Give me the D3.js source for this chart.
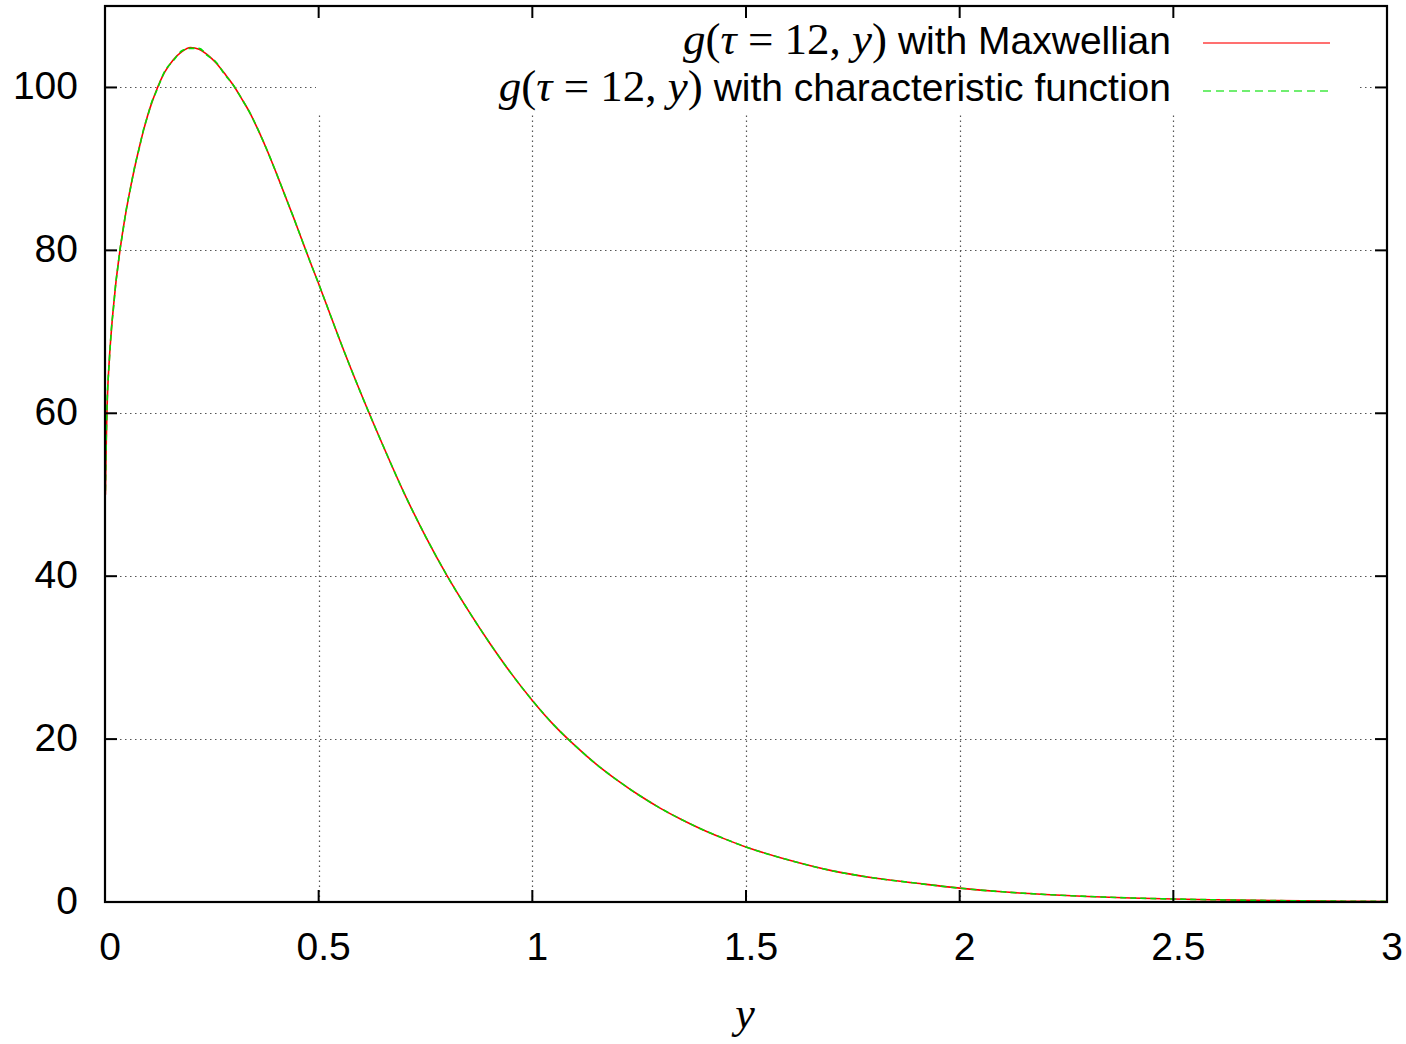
<!DOCTYPE html>
<html>
<head>
<meta charset="utf-8">
<script src="https://cdn.jsdelivr.net/npm/d3@7"></script>
<style>
  html, body { margin: 0; padding: 0; background: #fff; }
  svg { display: block; }
</style>
</head>
<body>
<svg id="chart" width="1406" height="1044"></svg>
<script>
// Sample positions y and the two computed profiles g(tau = 12, y)
const yValues = [
  0.001, 0.003, 0.005, 0.010, 0.015, 0.020, 0.025, 0.030, 0.035, 0.040,
  0.050, 0.060, 0.070, 0.080, 0.090, 0.100, 0.110, 0.120, 0.140, 0.160,
  0.180, 0.200, 0.220, 0.240, 0.260, 0.280, 0.300, 0.320, 0.340, 0.360,
  0.380, 0.400, 0.420, 0.440, 0.460, 0.480, 0.500, 0.520, 0.550, 0.600,
  0.650, 0.700, 0.750, 0.800, 0.850, 0.900, 0.950, 1.000, 1.050, 1.100,
  1.150, 1.200, 1.250, 1.300, 1.350, 1.400, 1.450, 1.500, 1.600, 1.700,
  1.800, 1.900, 2.000, 2.100, 2.200, 2.300, 2.400, 2.500, 2.600, 2.700,
  2.800, 2.900, 3.000
];
const gMaxwellian = [
  50.0, 56.5, 61.0, 66.5, 70.2, 73.2, 75.8, 78.0, 80.0, 81.8,
  85.0, 87.8, 90.3, 92.6, 94.7, 96.6, 98.2, 99.6, 101.9, 103.4,
  104.4, 104.9, 104.7, 104.0, 103.0, 101.7, 100.3, 98.6, 96.8, 94.6,
  92.2, 89.6, 86.9, 84.2, 81.4, 78.6, 75.9, 73.1, 68.9, 62.3,
  56.1, 50.2, 44.9, 40.1, 35.8, 31.8, 28.1, 24.75, 21.75, 19.2,
  16.9, 14.9, 13.1, 11.5, 10.1, 8.85, 7.75, 6.75, 5.15, 3.85,
  2.95, 2.3, 1.7, 1.25, 0.93, 0.68, 0.5, 0.37, 0.27, 0.2,
  0.14, 0.1, 0.07
];
const gCharacteristic = [
  50.5, 57.0, 61.3, 66.3, 70.4, 73.0, 75.9, 77.9, 80.1, 81.7,
  85.1, 87.7, 90.4, 92.5, 94.8, 96.5, 98.3, 99.5, 102.0, 103.3,
  104.5, 104.8, 104.8, 103.9, 103.1, 101.6, 100.3, 98.6, 96.8, 94.6,
  92.2, 89.6, 86.9, 84.2, 81.4, 78.6, 75.9, 73.1, 68.9, 62.3,
  56.1, 50.2, 44.9, 40.1, 35.8, 31.8, 28.1, 24.75, 21.75, 19.2,
  16.9, 14.9, 13.1, 11.5, 10.1, 8.85, 7.75, 6.75, 5.15, 3.85,
  2.95, 2.3, 1.7, 1.25, 0.93, 0.68, 0.5, 0.37, 0.27, 0.2,
  0.14, 0.1, 0.07
];
const xTicks = [0, 0.5, 1, 1.5, 2, 2.5, 3];
const yTicks = [0, 20, 40, 60, 80, 100];
const legendLabels = ["with Maxwellian", "with characteristic function"];

const svg = d3.select("#chart");
const plotL = 105, plotR = 1387, plotT = 6, plotB = 902;

const x = d3.scaleLinear().domain([0, 3]).range([plotL, plotR]);
const y = d3.scaleLinear().domain([0, 110]).range([plotB, plotT]);

const sans = "'Liberation Sans', Arial, sans-serif";
const serif = "'Liberation Serif', 'Times New Roman', serif";

// dotted grid
const grid = svg.append("g").attr("stroke", "#555").attr("stroke-width", 1.2)
  .attr("stroke-dasharray", "1.5,3.5");
grid.selectAll("line.gx").data(xTicks.filter(d => d > 0 && d < 3)).join("line")
  .attr("x1", d => Math.round(x(d)) + 0.5).attr("x2", d => Math.round(x(d)) + 0.5)
  .attr("y1", plotB).attr("y2", plotT);
grid.selectAll("line.gy").data(yTicks.filter(d => d > 0)).join("line")
  .attr("y1", d => Math.round(y(d)) + 0.5).attr("y2", d => Math.round(y(d)) + 0.5)
  .attr("x1", plotL).attr("x2", plotR);

// curves
const pts = (vals) => yValues.map((v, i) => [v, vals[i]]);
const line = d3.line().x(d => x(d[0])).y(d => y(d[1])).curve(d3.curveMonotoneX);

svg.append("path").datum(pts(gMaxwellian))
  .attr("fill", "none").attr("stroke", "#ff0000").attr("stroke-width", 1.6)
  .attr("d", line);
svg.append("path").datum(pts(gCharacteristic))
  .attr("fill", "none").attr("stroke", "#00e000").attr("stroke-width", 1.6)
  .attr("stroke-dasharray", "6,4")
  .attr("d", line);

// legend background
svg.append("rect").attr("x", 316).attr("y", plotT + 2).attr("width", 1358 - 316)
  .attr("height", 107).attr("fill", "#fff");

// legend entries
const legend = svg.append("g");
const rows = [
  { ty: 54, ly: 43, color: "#ff0000", dash: null },
  { ty: 101, ly: 91, color: "#00e000", dash: "8,5" }
];
rows.forEach((r, i) => {
  const t = legend.append("text").attr("x", 1171).attr("y", r.ty)
    .attr("text-anchor", "end").attr("fill", "#000");
  const add = (s, italic) => t.append("tspan").attr("font-family", serif)
    .attr("font-size", "45px").attr("font-style", italic ? "italic" : "normal").text(s);
  add("g", true);
  add("(", false);
  add("τ", true);
  add(" = 12, ", false);
  add("y", true);
  add(")", false);
  t.append("tspan").attr("font-family", sans).attr("font-size", "39px")
    .text("\u00a0" + legendLabels[i]);
  const ln = legend.append("line").attr("x1", 1203).attr("x2", 1330)
    .attr("y1", r.ly).attr("y2", r.ly)
    .attr("stroke", r.color).attr("stroke-width", 1.3).attr("stroke-opacity", 0.75);
  if (r.dash) ln.attr("stroke-dasharray", r.dash);
});

// frame
svg.append("rect").attr("x", plotL).attr("y", plotT).attr("width", plotR - plotL)
  .attr("height", plotB - plotT).attr("fill", "none").attr("stroke", "#000")
  .attr("stroke-width", 2.2);

// inward ticks on all four sides
const tk = svg.append("g").attr("stroke", "#000").attr("stroke-width", 2);
const tl = 12;
xTicks.forEach(d => {
  const px = x(d);
  tk.append("line").attr("x1", px).attr("x2", px).attr("y1", plotB).attr("y2", plotB - tl);
  tk.append("line").attr("x1", px).attr("x2", px).attr("y1", plotT).attr("y2", plotT + tl);
});
yTicks.forEach(d => {
  const py = y(d);
  tk.append("line").attr("y1", py).attr("y2", py).attr("x1", plotL).attr("x2", plotL + tl);
  tk.append("line").attr("y1", py).attr("y2", py).attr("x1", plotR).attr("x2", plotR - tl);
});

// tick labels
svg.append("g").selectAll("text").data(xTicks).join("text")
  .attr("x", d => x(d) + 5).attr("y", 960)
  .attr("text-anchor", "middle").attr("font-family", sans).attr("font-size", "39px")
  .text(d => String(d));
svg.append("g").selectAll("text").data(yTicks).join("text")
  .attr("x", 78).attr("y", d => y(d) + 12)
  .attr("text-anchor", "end").attr("font-family", sans).attr("font-size", "39px")
  .text(d => String(d));

// axis title
svg.append("text").attr("x", 745).attr("y", 1028).attr("text-anchor", "middle")
  .attr("font-family", serif).attr("font-style", "italic").attr("font-size", "44px")
  .text("y");
</script>
</body>
</html>
